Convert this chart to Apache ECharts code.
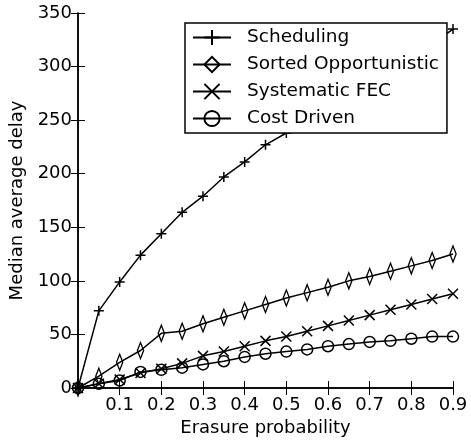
<!DOCTYPE html>
<html>
<head>
<meta charset="utf-8">
<script src="https://cdn.jsdelivr.net/npm/echarts@6/dist/echarts.min.js"></script>
<style>
  html, body { margin: 0; padding: 0; background: #fff; }
  #chart { width: 471px; height: 442px; }
</style>
</head>
<body>
<div id="chart"></div>
<script>
// erasure probability (x)
var erasure = [0, 0.05, 0.1, 0.15, 0.2, 0.25, 0.3, 0.35, 0.4, 0.45, 0.5, 0.55, 0.6, 0.65, 0.7, 0.75, 0.8, 0.85, 0.9];
// median average delay per scheme
var scheduling = [0, 72, 99, 124, 144, 164, 179, 197, 211, 227, 238, 252, 263, 274, 285, 296, 307, 321, 335];
var sortedOpp = [0, 11, 24, 35, 51, 53, 60, 66, 72, 78, 84, 89, 94, 100, 104, 109, 114, 119, 125];
var systematicFec = [0, 4, 8, 14, 18, 23, 30, 34, 39, 44, 48, 53, 58, 63, 68, 73, 78, 83, 88];
var costDriven = [0, 4, 7, 15, 17, 19, 22, 25, 29, 32, 34, 36, 39, 41, 43, 44, 46, 48, 48];

var seriesNames = ["Scheduling", "Sorted Opportunistic", "Systematic FEC", "Cost Driven"];

var font = "DejaVu Sans";
// hollow markers, line shows through them like matplotlib's
var plusPath = "path://M0,5L10,5M5,0L5,10";
var crossPath = "path://M0,0L10,10M10,0L0,10";
var diamondPath = "path://M5,0L10,8L5,16L0,8Z";
var circlePath = "path://M10,5A5,5 0 1,1 0,5A5,5 0 1,1 10,5Z";

function pairs(ys) {
  return ys.map(function (y, i) { return [erasure[i], y]; });
}

var chart = echarts.init(document.getElementById("chart"));

function makeSeries(name, data, symbol, size) {
  return {
    name: name,
    type: "line",
    data: pairs(data),
    xAxisIndex: 0,
    yAxisIndex: 0,
    symbol: symbol,
    symbolSize: size,
    symbolKeepAspect: true,
    showAllSymbol: true,
    lineStyle: { color: "#000", width: 1.5 },
    itemStyle: { color: "rgba(0,0,0,0)", borderColor: "#000", borderWidth: 1.5 },
    emphasis: { disabled: true },
    animation: false,
  };
}

var tickStyle = { show: true, inside: true, length: 7, lineStyle: { color: "#000", width: 1 } };
var lineAxis = { show: true, lineStyle: { color: "#000", width: 1.5 } };

var option = {
  backgroundColor: "#fff",
  animation: false,
  grid: { left: 78, right: 18, top: 13, bottom: 54 },
  legend: {
    orient: "vertical",
    left: 185,
    top: 23,
    zlevel: 2,
    z: 10,
    padding: [5, 8, 5, 7],
    itemGap: 8,
    itemWidth: 38,
    itemHeight: 19,
    backgroundColor: "#fff",
    borderColor: "#000",
    borderWidth: 1.5,
    borderRadius: 0,
    textStyle: { color: "#000", fontFamily: font, fontSize: 18.5, padding: [0, 0, 0, 11] },
    data: seriesNames,
  },
  xAxis: [
    {
      type: "value",
      min: 0,
      max: 0.9,
      interval: 0.1,
      name: "Erasure probability",
      nameLocation: "middle",
      nameGap: 30,
      nameTextStyle: { color: "#000", fontFamily: font, fontSize: 18 },
      axisLine: lineAxis,
      axisTick: tickStyle,
      splitLine: { show: false },
      axisLabel: {
        color: "#000",
        fontFamily: font,
        fontSize: 18,
        margin: 8,
        formatter: function (v) { return v === 0 ? "" : v.toFixed(1); },
      },
    },
    {
      type: "value",
      position: "top",
      min: 0,
      max: 0.9,
      interval: 0.1,
      axisLine: lineAxis,
      axisTick: tickStyle,
      splitLine: { show: false },
      axisLabel: { show: false },
    },
  ],
  yAxis: [
    {
      type: "value",
      min: 0,
      max: 350,
      interval: 50,
      name: "Median average delay",
      nameLocation: "middle",
      nameGap: 48,
      nameTextStyle: { color: "#000", fontFamily: font, fontSize: 18 },
      axisLine: lineAxis,
      axisTick: tickStyle,
      splitLine: { show: false },
      axisLabel: { color: "#000", fontFamily: font, fontSize: 18, margin: 6 },
    },
    {
      type: "value",
      position: "right",
      min: 0,
      max: 350,
      interval: 50,
      axisLine: lineAxis,
      axisTick: tickStyle,
      splitLine: { show: false },
      axisLabel: { show: false },
    },
  ],
  series: [
    makeSeries(seriesNames[0], scheduling, plusPath, 10),
    makeSeries(seriesNames[1], sortedOpp, diamondPath, [10, 16]),
    makeSeries(seriesNames[2], systematicFec, crossPath, 10),
    makeSeries(seriesNames[3], costDriven, circlePath, 11),
  ],
};

chart.setOption(option);
</script>
</body>
</html>
